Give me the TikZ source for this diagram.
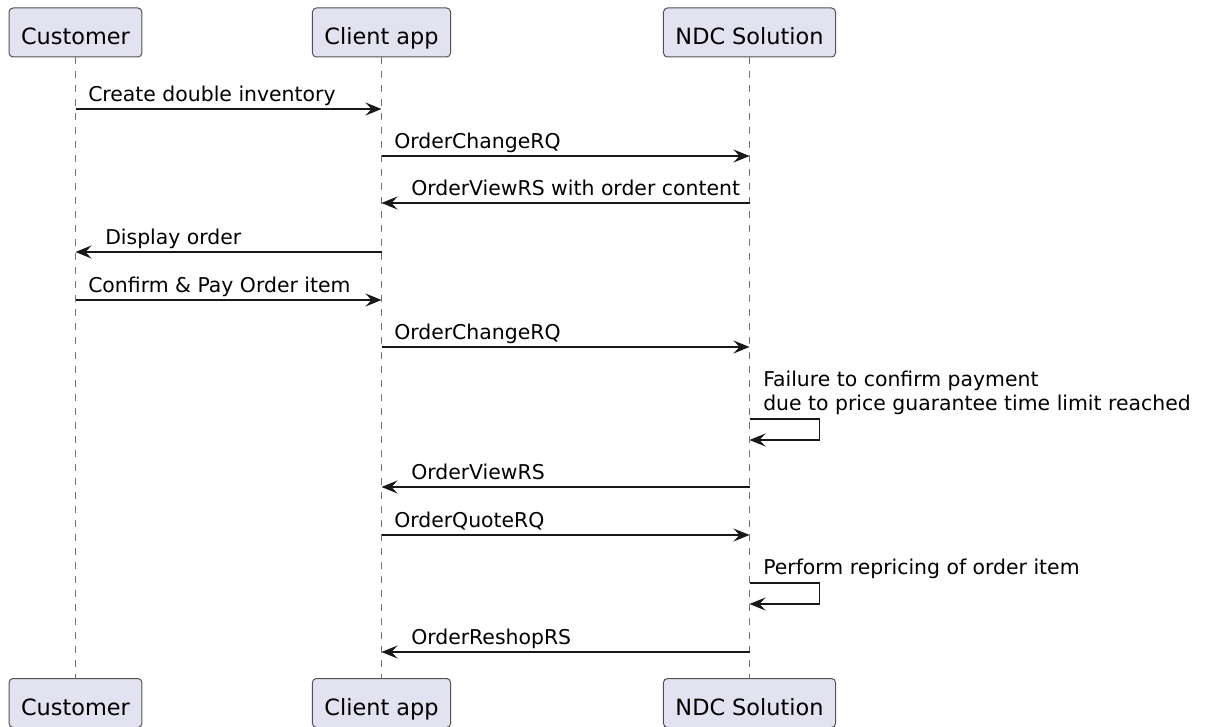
\documentclass[tikz,border=0pt]{standalone}
\usepackage{fontspec}
\setmainfont{DejaVu Sans}
\usetikzlibrary{arrows.meta}
\definecolor{partfill}{HTML}{E2E2F0}
\definecolor{seqline}{HTML}{181818}
\begin{document}
\begin{tikzpicture}[x=0.5pt,y=-0.5pt,
part/.style={draw=seqline!75,line width=0.5pt,fill=partfill,rounded corners=2pt,minimum height=24.5pt,inner xsep=6pt,inner ysep=0pt,text height=12pt,text depth=0pt,font=\fontsize{11.2}{13}\selectfont},
life/.style={draw=seqline!60,line width=0.5pt,dash pattern=on 3.5pt off 3.5pt},
msg/.style={draw=seqline,line width=0.75pt,-{Stealth[length=8pt,width=6.5pt,inset=3pt]}},
lbl/.style={font=\fontsize{10.2}{12}\selectfont,inner sep=0pt,anchor=base west}]
\useasboundingbox (0,0) rectangle (1205,727);
% lifelines
\node[part] (cust) at (75.5,32.5) {Customer};
\node[part] (cli) at (381.5,32.5) {Client app};
\node[part] (ndc) at (749.5,32.5) {NDC Solution};
\node[part] (custb) at (75.5,703) {Customer};
\node[part] (clib) at (381.5,703) {Client app};
\node[part] (ndcb) at (749.5,703) {NDC Solution};
\draw[life] (cust.south)--(custb.north);
\draw[life] (cli.south)--(clib.north);
\draw[life] (ndc.south)--(ndcb.north);
% messages
\draw[msg] (cust |- 0,109)--(cli |- 0,109) node[lbl,at start,xshift=6pt,yshift=3.75pt]{Create double inventory};
\draw[msg] (cli |- 0,156)--(ndc |- 0,156) node[lbl,at start,xshift=6pt,yshift=3.75pt]{OrderChangeRQ};
\draw[msg] (ndc |- 0,203)--(cli |- 0,203) node[lbl,at end,xshift=14.5pt,yshift=3.75pt]{OrderViewRS with order content};
\draw[msg] (cli |- 0,252)--(cust |- 0,252) node[lbl,at end,xshift=14.5pt,yshift=3.75pt]{Display order};
\draw[msg] (cust |- 0,300)--(cli |- 0,300) node[lbl,at start,xshift=6pt,yshift=3.75pt]{Confirm \& Pay Order item};
\draw[msg] (cli |- 0,347)--(ndc |- 0,347) node[lbl,at start,xshift=6pt,yshift=3.75pt]{OrderChangeRQ};
\draw[msg] (ndc |- 0,419) node[lbl,align=left,xshift=6.5pt,yshift=4.5pt]{Failure to confirm payment\\due to price guarantee time limit reached}
  --++(70,0)--++(0,21)--(ndc |- 0,440);
\draw[msg] (ndc |- 0,487)--(cli |- 0,487) node[lbl,at end,xshift=14.5pt,yshift=3.75pt]{OrderViewRS};
\draw[msg] (cli |- 0,535)--(ndc |- 0,535) node[lbl,at start,xshift=6pt,yshift=3.75pt]{OrderQuoteRQ};
\draw[msg] (ndc |- 0,583) node[lbl,xshift=6.5pt,yshift=4.5pt]{Perform repricing of order item}
  --++(70,0)--++(0,21)--(ndc |- 0,604);
\draw[msg] (ndc |- 0,652)--(cli |- 0,652) node[lbl,at end,xshift=14.5pt,yshift=3.75pt]{OrderReshopRS};
\end{tikzpicture}
\end{document}
